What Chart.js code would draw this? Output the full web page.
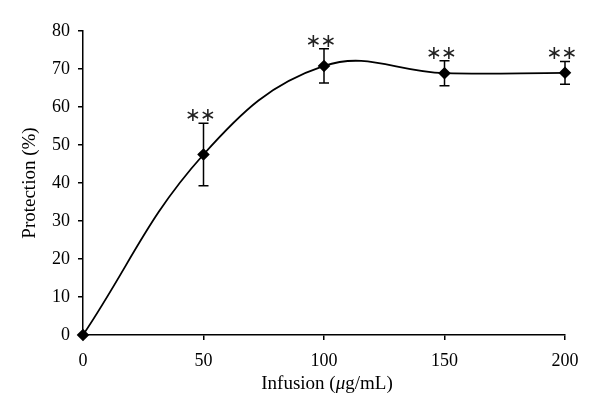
<!DOCTYPE html>
<html lang="en">
<head>
    <meta charset="UTF-8">
    <title>Protection vs infusion</title>
    <script src="https://cdn.jsdelivr.net/npm/chart.js"></script>
    <style>
        html, body { margin: 0; padding: 0; background: #fff; }
        #wrap { width: 600px; height: 417px; }
    </style>
</head>
<body>
    <div id="wrap"><canvas id="graph-canvas" width="600" height="417"></canvas></div>

    <script>
        // Datos
        const doses = [0, 50, 100, 150, 200];
        const protection = [0, 47.5, 70.8, 68.9, 69.0];
        const errors = [0, 8.2, 4.5, 3.3, 3.0];
        const marks = ['', '**', '**', '**', '**'];
        const yTicks = [0, 10, 20, 30, 40, 50, 60, 70, 80];
        const xTicks = [0, 50, 100, 150, 200];

        const serif = '"Liberation Serif", "DejaVu Serif", serif';

        // Barras de error y asteriscos
        const errorBars = {
            id: 'errorBars',
            afterDatasetsDraw(chart) {
                const ctx = chart.ctx;
                const xs = chart.scales.x, ys = chart.scales.y;
                ctx.save();
                ctx.strokeStyle = '#000';
                ctx.lineWidth = 1.5;
                doses.forEach((d, i) => {
                    if (!errors[i]) return;
                    const px = xs.getPixelForValue(d);
                    const top = ys.getPixelForValue(protection[i] + errors[i]);
                    const bot = ys.getPixelForValue(protection[i] - errors[i]);
                    ctx.beginPath();
                    ctx.moveTo(px, top); ctx.lineTo(px, bot);
                    ctx.moveTo(px - 5, top); ctx.lineTo(px + 5, top);
                    ctx.moveTo(px - 5, bot); ctx.lineTo(px + 5, bot);
                    ctx.stroke();
                });
                // asteriscos de significancia, uno por uno
                ctx.fillStyle = '#222';
                ctx.font = '19px "DejaVu Sans", sans-serif';
                ctx.textAlign = 'center';
                ctx.textBaseline = 'middle';
                doses.forEach((d, i) => {
                    if (!marks[i]) return;
                    const px = xs.getPixelForValue(d);
                    const top = ys.getPixelForValue(protection[i] + errors[i]);
                    marks[i].split('').forEach((m, k) => {
                        ctx.fillText('\u2217', px - 10.5 + k * 15, top - 7);
                    });
                });
                ctx.restore();
            },
            afterDraw(chart) {
                // Título del eje x con la mu en cursiva
                const ctx = chart.ctx;
                const xs = chart.scales.x;
                const parts = [['Infusion (', ''], ['\u03bc', 'italic '], ['g/mL)', '']];
                ctx.save();
                ctx.fillStyle = '#000';
                ctx.textBaseline = 'middle';
                let total = 0;
                parts.forEach(p => { ctx.font = p[1] + '19px ' + serif; total += ctx.measureText(p[0]).width; });
                let x = (xs.left + xs.right) / 2 - total / 2 + 3;
                parts.forEach(p => {
                    ctx.font = p[1] + '19px ' + serif;
                    ctx.fillText(p[0], x, 384);
                    x += ctx.measureText(p[0]).width;
                });
                ctx.restore();
            }
        };

        new Chart(document.getElementById('graph-canvas'), {
            type: 'line',
            data: {
                datasets: [{
                    data: doses.map((d, i) => ({ x: d, y: protection[i] })),
                    borderColor: '#000',
                    backgroundColor: '#000',
                    borderWidth: 1.8,
                    tension: 0.4,
                    pointStyle: 'rectRot',
                    pointRadius: 5,
                    pointHoverRadius: 5,
                    clip: false,
                    fill: false
                }]
            },
            options: {
                responsive: false,
                animation: false,
                events: [],
                layout: { padding: { left: 0, top: 31, right: 35, bottom: 0 } },
                plugins: { legend: { display: false }, tooltip: { enabled: false } },
                scales: {
                    x: {
                        type: 'linear',
                        min: 0, max: 200,
                        afterBuildTicks: s => { s.ticks = xTicks.map(v => ({ value: v })); },
                        afterFit: s => { s.height = 82; },
                        border: { color: '#000', width: 1.5 },
                        grid: { drawOnChartArea: false, drawTicks: true, tickLength: 5, color: '#000', lineWidth: 1.5 },
                        ticks: { color: '#000', padding: 10, maxRotation: 0, font: { family: serif, size: 18 } },
                        title: { display: false }
                    },
                    y: {
                        min: 0, max: 80,
                        afterBuildTicks: s => { s.ticks = yTicks.map(v => ({ value: v })); },
                        afterFit: s => { s.width = 83; },
                        border: { color: '#000', width: 1.5 },
                        grid: { drawOnChartArea: false, drawTicks: true, tickLength: 5, color: '#000', lineWidth: 1.5 },
                        ticks: { color: '#000', padding: 8, font: { family: serif, size: 18 } },
                        title: {
                            display: true,
                            text: 'Protection (%)',
                            color: '#000',
                            padding: { top: 19, bottom: 0 },
                            font: { family: serif, size: 19 }
                        }
                    }
                }
            },
            plugins: [errorBars]
        });
    </script>
</body>
</html>
